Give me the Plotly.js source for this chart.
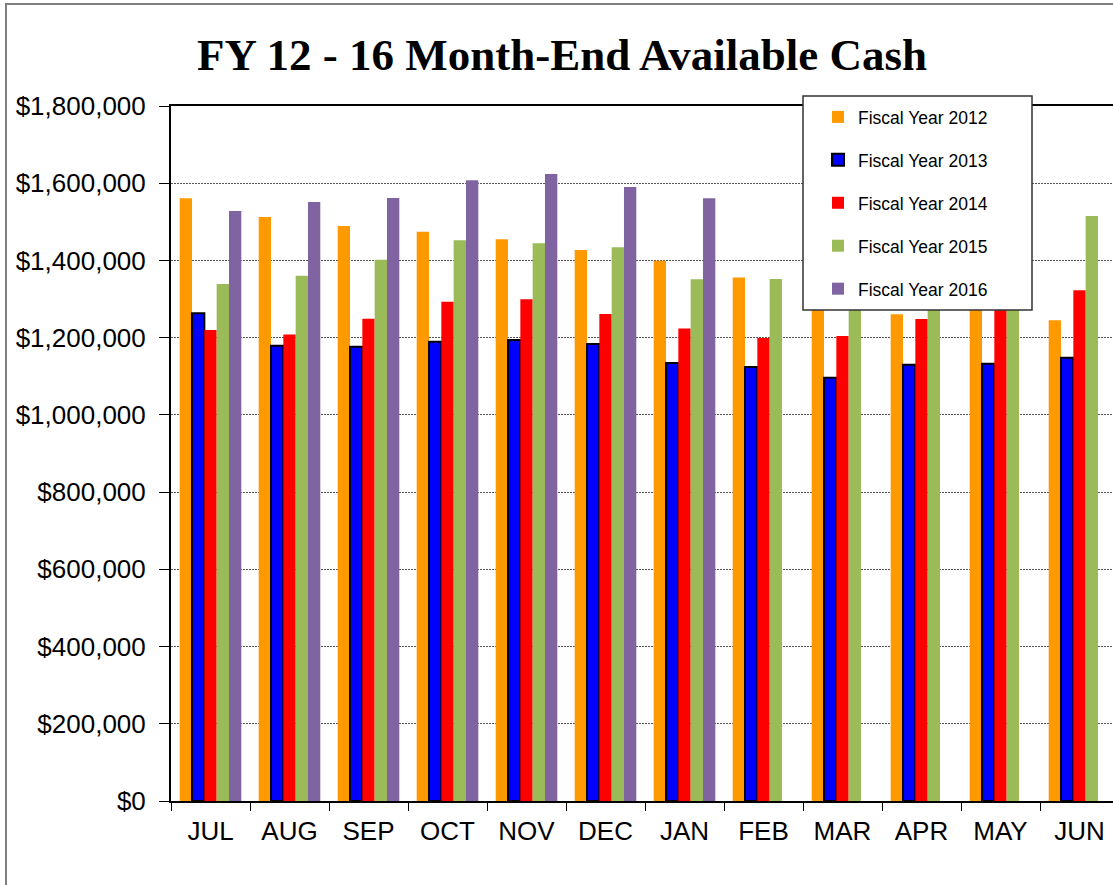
<!DOCTYPE html>
<html>
<head>
<meta charset="utf-8">
<script src="https://cdn.plot.ly/plotly-3.0.1.min.js"></script>
<style>
  html, body { margin: 0; padding: 0; overflow: hidden; background: #fff; }
  #chart { width: 1135px; height: 900px; }
</style>
</head>
<body>
<div id="chart"></div>
<script>
const months = ['JUL','AUG','SEP','OCT','NOV','DEC','JAN','FEB','MAR','APR','MAY','JUN'];
const seriesNames = ['Fiscal Year 2012','Fiscal Year 2013','Fiscal Year 2014','Fiscal Year 2015','Fiscal Year 2016'];
const fy2012 = [1561000,1512500,1489000,1474000,1455000,1427000,1399000,1356000,1300000,1260500,1275000,1245000];
const fy2013 = [1263000,1179000,1176500,1189500,1194000,1183500,1134500,1124000,1096500,1130000,1132500,1148000];
const fy2014 = [1220000,1208500,1249000,1293000,1299500,1261500,1224000,1199000,1204500,1248500,1285000,1322500];
const fy2015 = [1339000,1360500,1402000,1452000,1444500,1434000,1351000,1352000,1330000,1340000,1380000,1515000];
const fy2016 = [1528000,1551500,1561500,1608000,1624000,1590000,1561000,null,null,null,null,null];

const seriesValues = [fy2012, fy2013, fy2014, fy2015, fy2016];
const colors = ['#FF9900','#0000FF','#FF0000','#9BBB59','#8064A2'];
const outlineColors = ['rgba(0,0,0,0)','#000000','rgba(0,0,0,0)','rgba(0,0,0,0)','rgba(0,0,0,0)'];
const outlineWidths = [0,2,0,0,0];

const traces = seriesValues.map((vals, i) => ({
  type: 'bar',
  name: seriesNames[i],
  x: months,
  y: vals,
  legendgroup: 'g' + i,
  marker: { color: colors[i], line: { color: outlineColors[i], width: outlineWidths[i] } },
  hoverinfo: 'x+y+name'
}));

const W = 1135, H = 900;
const L = 171, R = 1119, T = 106, B = 801;
const px = (x) => (x - L) / (R - L);
const py = (y) => (B - y) / (B - T);

const layout = {
  width: W, height: H,
  margin: { l: L, r: W - R, t: T, b: H - B, pad: 0 },
  paper_bgcolor: '#ffffff',
  plot_bgcolor: '#ffffff',
  barmode: 'group',
  bargap: 0.22,
  bargroupgap: 0,
  title: {
    text: '<b>FY 12 - 16 Month-End Available Cash</b>',
    font: { family: '"Liberation Serif", "Times New Roman", serif', size: 45, color: '#000' },
    xref: 'container', yref: 'container',
    x: 562 / W, xanchor: 'center',
    y: 1 - 54 / H, yanchor: 'middle'
  },
  xaxis: {
    type: 'category',
    showline: true, linecolor: '#000', linewidth: 2, mirror: true,
    ticks: 'outside', ticklen: 8, tickwidth: 1, tickcolor: '#000',
    tickson: 'boundaries',
    showgrid: false, zeroline: false,
    tickfont: { family: '"Liberation Sans", Arial, sans-serif', size: 26, color: '#000' },
    ticklabelstandoff: 6
  },
  yaxis: {
    range: [0, 1800000],
    dtick: 200000, tick0: 0,
    tickprefix: '$', tickformat: ',.0f',
    showline: true, linecolor: '#000', linewidth: 2, mirror: true,
    ticks: 'outside', ticklen: 10, tickwidth: 1, tickcolor: '#000',
    showgrid: true, gridcolor: '#555555', gridwidth: 1, griddash: '2px,1px',
    zeroline: false,
    tickfont: { family: '"Liberation Sans", Arial, sans-serif', size: 26, color: '#000' },
    ticklabelstandoff: 8
  },
  legend: {
    x: px(818), y: py(99), xanchor: 'left', yanchor: 'top',
    bgcolor: 'rgba(0,0,0,0)', borderwidth: 0,
    traceorder: 'grouped', tracegroupgap: 17.2,
    font: { family: '"Liberation Sans", Arial, sans-serif', size: 17.5, color: '#000' }
  },
  shapes: [
    { type: 'rect', xref: 'paper', yref: 'paper', layer: 'above',
      x0: px(803), x1: px(1032), y0: py(310), y1: py(96),
      fillcolor: '#ffffff', line: { color: '#333333', width: 1.5 } },
    { type: 'rect', xref: 'paper', yref: 'paper', layer: 'below',
      x0: px(6), x1: px(1128), y0: py(895), y1: py(4),
      fillcolor: 'rgba(0,0,0,0)', line: { color: '#7f7f7f', width: 2 } }
  ],
  showlegend: true
};

Plotly.newPlot('chart', traces, layout, { displayModeBar: false, staticPlot: true });
</script>
</body>
</html>
